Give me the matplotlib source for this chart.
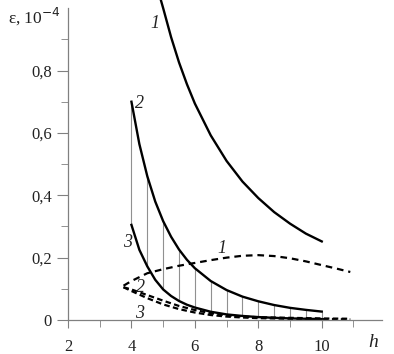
import numpy as np
import matplotlib
matplotlib.use("Agg")
import matplotlib.pyplot as plt
from matplotlib.ticker import MultipleLocator, FixedLocator, FuncFormatter

plt.rcParams['font.family'] = ['Liberation Serif', 'DejaVu Serif']

# solid curves (h, eps * 1e4)
h1 = [4.93, 5.0, 5.25, 5.5, 5.75, 6.0, 6.5, 7.0, 7.5, 8.0, 8.5, 9.0, 9.5, 10.0]
e1 = [1.025, 1.0, 0.907, 0.826, 0.756, 0.694, 0.592, 0.510, 0.444, 0.391, 0.346, 0.309, 0.277, 0.252]

h23 = [4.0, 4.25, 4.5, 4.75, 5.0, 5.25, 5.5, 5.75, 6.0, 6.5, 7.0, 7.5, 8.0, 8.5, 9.0, 9.5, 10.0]
e2 = [0.700, 0.564, 0.461, 0.380, 0.317, 0.267, 0.226, 0.193, 0.166, 0.125, 0.096,
      0.075, 0.060, 0.048, 0.039, 0.0325, 0.027]
e3 = [0.305, 0.225, 0.172, 0.129, 0.098, 0.077, 0.061, 0.049, 0.040, 0.0265, 0.018,
      0.013, 0.0094, 0.007, 0.0052, 0.004, 0.003]

# dashed curves
hd = [3.75, 4.0, 4.5, 5.0, 5.5, 6.0, 6.5, 7.0, 7.5, 8.0, 8.5, 9.0, 9.5, 10.0, 10.5, 10.9]
d1 = [0.110, 0.125, 0.150, 0.163, 0.174, 0.183, 0.192, 0.200, 0.206, 0.208, 0.205,
      0.198, 0.188, 0.176, 0.164, 0.154]
d2 = [0.105, 0.098, 0.080, 0.062, 0.045, 0.032, 0.022, 0.015, 0.011, 0.009, 0.008,
      0.007, 0.006, 0.005, 0.0045, 0.004]
d3 = [0.105, 0.093, 0.070, 0.050, 0.035, 0.024, 0.016, 0.011, 0.008, 0.006, 0.005,
      0.004, 0.0035, 0.003, 0.0025, 0.002]

hatch_h = [4.0, 4.5, 5.0, 5.5, 6.0, 6.5, 7.0, 7.5, 8.0, 8.5, 9.0, 9.5, 10.0]

yticks = [0, 0.2, 0.4, 0.6, 0.8]
yminor = [0.1, 0.3, 0.5, 0.7, 0.9]

fig = plt.figure(figsize=(3.94, 3.54), dpi=100)
ax = fig.add_axes([0.1726, 0.096, 0.797, 0.881])

# thin vertical lines between curves 2 and 3
lo = [e3[h23.index(h)] for h in hatch_h]
hi = [e2[h23.index(h)] for h in hatch_h]
ax.vlines(hatch_h, lo, hi, color='#909090', lw=0.8, zorder=1)

ax.plot(h1, e1, color='black', lw=1.7, clip_on=False)
ax.plot(h23, e2, color='black', lw=1.7)
ax.plot(h23, e3, color='black', lw=1.7)

ax.plot(hd, d1, color='black', lw=1.6, dashes=(3, 2.2))
ax.plot(hd, d2, color='black', lw=1.6, dashes=(2.5, 1.5))
ax.plot(hd, d3, color='black', lw=1.6, dashes=(2.5, 1.5))

ax.set_xlim(2, 11.9)
ax.set_ylim(0, 1.0)

for s in ['top', 'right']:
    ax.spines[s].set_visible(False)
for s in ['left', 'bottom']:
    ax.spines[s].set_color('#808080')
    ax.spines[s].set_linewidth(0.9)

ax.xaxis.set_major_locator(MultipleLocator(2))
ax.xaxis.set_minor_locator(MultipleLocator(1))
ax.yaxis.set_major_locator(FixedLocator(yticks))
ax.yaxis.set_minor_locator(FixedLocator(yminor))
ax.yaxis.set_major_formatter(FuncFormatter(lambda v, p: '0' if abs(v) < 1e-9 else f"{v:.1f}".replace('.', ',')))
ax.tick_params(axis='both', which='both', colors='#808080', labelcolor='#222222', labelsize=12, direction='out')
ax.tick_params(axis='y', which='major', length=8)
ax.tick_params(axis='y', which='minor', length=5)
ax.tick_params(axis='x', which='major', length=6, pad=8)
ax.tick_params(axis='x', which='minor', length=5)

# curve labels
lab = dict(fontsize=13, style='italic', color='#222222')
ax.text(4.6, 0.935, '1', **lab)
ax.text(4.12, 0.68, '2', **lab)
ax.text(3.72, 0.235, '3', **lab)
ax.text(6.7, 0.215, '1', **lab)
ax.text(4.15, 0.09, '2', **lab)
ax.text(4.1, 0.005, '3', **lab)

fig.text(0.02, 0.935, r'ε, 10$^{-4}$', fontsize=12.5, color='#222222')
fig.text(0.935, 0.02, 'h', fontsize=14, style='italic', color='#222222')

fig.savefig('out.png', dpi=100)
